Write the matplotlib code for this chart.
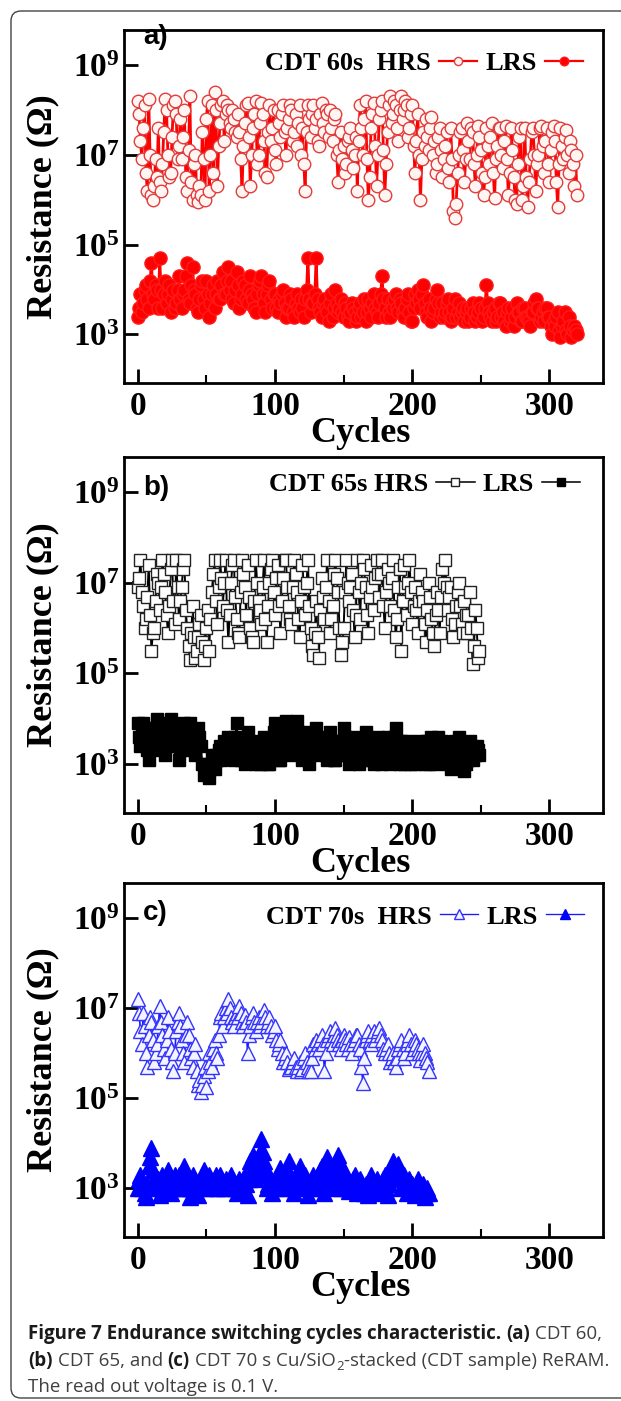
import numpy as np
import matplotlib
matplotlib.use("Agg")
import matplotlib.pyplot as plt
from matplotlib.lines import Line2D
from matplotlib.patches import FancyBboxPatch
from matplotlib.ticker import FixedLocator, LogLocator, NullFormatter

plt.rcParams["font.family"] = "Liberation Serif"
plt.rcParams["font.weight"] = "bold"
plt.rcParams["mathtext.fontset"] = "custom"
plt.rcParams["mathtext.bf"] = "Liberation Serif:bold"
plt.rcParams["mathtext.rm"] = "Liberation Serif:bold"

# ---- data: log10 of resistance (ohm), one value per cycle ----
cycles_a = np.arange(0, 321)
hrs_a_log = [
    8.2, 7.9, 7.3, 6.9, 7.6, 8.1, 6.6, 6.2, 8.25, 7.0, 6.1, 6.0, 6.3, 6.9, 6.5, 7.6,
    6.4, 6.2, 6.8, 7.5, 8.25, 8.0, 7.0, 6.5, 6.6, 7.4, 8.1, 8.2, 7.9, 6.9, 7.2, 7.8,
    6.9, 7.4, 8.0, 6.5, 6.2, 7.1, 8.3, 6.4, 6.0, 6.8, 7.0, 6.1, 5.95, 6.3, 6.1, 7.5,
    6.9, 6.0, 7.8, 8.2, 6.2, 7.0, 8.1, 6.6, 8.4, 8.0, 6.3, 7.2, 7.7, 8.1, 8.2, 7.3,
    7.9, 8.1, 8.0, 7.7, 7.6, 8.0, 7.8, 7.5, 7.4, 7.9, 7.5, 6.9, 6.2, 7.2, 7.7, 8.1,
    8.15, 7.4, 6.3, 7.0, 7.6, 7.9, 8.2, 6.8, 7.0, 7.7, 8.15, 7.9, 7.3, 6.6, 6.5, 7.5,
    8.1, 7.3, 7.6, 8.0, 7.1, 6.8, 8.0, 7.7, 7.4, 7.9, 8.1, 7.5, 7.0, 7.6, 7.8, 8.1,
    8.0, 7.3, 7.5, 7.9, 7.2, 7.7, 8.1, 7.0, 7.6, 6.8, 6.2, 7.5, 8.1, 7.8, 7.4, 7.9,
    8.1, 7.6, 7.8, 7.3, 7.2, 7.9, 8.15, 7.7, 7.5, 8.0, 7.9, 7.4, 8.0, 7.6, 7.3, 7.8,
    7.9, 7.0, 6.4, 7.1, 7.5, 6.9, 7.2, 6.6, 6.8, 7.3, 7.4, 7.6, 7.1, 6.7, 7.0, 7.4,
    6.2, 7.3, 8.1, 7.6, 7.0, 7.8, 8.2, 6.9, 6.0, 6.5, 7.6, 7.9, 8.15, 7.2, 6.3, 7.0,
    7.8, 8.0, 8.2, 7.1, 6.1, 6.8, 7.5, 8.1, 8.3, 7.7, 7.9, 8.2, 8.1, 7.6, 7.3, 8.0,
    8.3, 7.8, 8.0, 8.2, 8.1, 7.4, 7.6, 7.9, 8.1, 7.2, 6.6, 7.3, 7.9, 7.0, 6.0, 6.9,
    7.5, 7.2, 7.8, 7.4, 7.1, 7.6, 7.85, 7.0, 7.3, 6.6, 6.8, 7.4, 7.6, 7.1, 6.5, 6.9,
    7.2, 7.5, 6.7, 6.4, 7.6, 6.9, 5.75, 5.6, 5.9, 6.6, 7.0, 7.5, 7.6, 7.1, 6.4, 6.9,
    7.7, 7.3, 6.9, 7.6, 7.5, 6.8, 6.3, 7.0, 7.65, 7.4, 7.1, 6.6, 6.1, 6.5, 7.6, 7.2,
    6.8, 7.4, 7.7, 6.6, 6.05, 6.9, 7.2, 7.6, 7.6, 7.0, 6.7, 7.3, 7.65, 6.9, 6.1, 6.6,
    7.6, 7.1, 6.5, 6.0, 5.9, 6.8, 7.4, 7.6, 6.0, 6.3, 7.6, 6.5, 5.85, 6.4, 6.9, 7.5,
    7.6, 7.0, 6.2, 6.8, 7.0, 7.6, 7.65, 7.2, 6.6, 7.3, 7.6, 6.8, 6.4, 7.1, 7.5, 7.65,
    7.3, 6.4, 5.85, 6.8, 7.6, 7.2, 6.9, 7.4, 7.55, 7.0, 6.6, 7.3, 7.1, 6.8, 6.3, 7.0,
    6.1,
]
lrs_a_log = [
    3.4, 3.6, 3.9, 3.5, 3.7, 4.0, 4.1, 3.8, 3.6, 4.2, 4.6, 3.9, 3.8, 4.1, 4.0, 3.6,
    4.7, 4.0, 3.6, 3.9, 4.2, 3.7, 3.9, 4.1, 3.5, 3.8, 4.0, 3.6, 3.7, 4.0, 4.3, 3.8,
    3.6, 3.9, 4.0, 4.3, 4.6, 3.8, 3.7, 4.1, 4.5, 4.0, 3.9, 3.6, 3.5, 3.8, 4.1, 4.2,
    3.8, 3.6, 4.2, 3.9, 3.4, 3.7, 3.9, 4.1, 3.6, 3.9, 4.2, 3.8, 3.8, 4.1, 4.4, 3.9,
    3.9, 4.2, 4.5, 4.0, 4.2, 3.8, 3.7, 4.0, 4.4, 4.1, 3.6, 3.8, 3.9, 4.2, 4.1, 3.8,
    3.7, 4.0, 4.3, 3.9, 3.8, 3.6, 3.5, 3.9, 4.1, 4.2, 4.3, 3.9, 3.7, 3.5, 3.9, 4.1,
    4.2, 3.8, 3.6, 3.9, 3.9, 3.6, 3.5, 3.8, 3.7, 3.9, 4.0, 3.7, 3.4, 3.6, 3.6, 3.9,
    3.8, 3.5, 3.4, 3.7, 3.9, 3.6, 3.5, 3.8, 3.6, 3.4, 3.8, 4.0, 4.7, 3.8, 3.5, 3.7,
    3.7, 3.9, 4.7, 3.8, 3.6, 3.5, 3.4, 3.7, 3.8, 3.6, 3.5, 3.3, 3.7, 3.9, 3.4, 3.6,
    4.0, 3.7, 3.5, 3.6, 3.8, 3.5, 3.4, 3.7, 3.6, 3.4, 3.3, 3.5, 3.7, 3.6, 3.5, 3.3,
    3.4, 3.6, 3.7, 3.4, 3.5, 3.8, 3.3, 3.5, 3.8, 3.6, 3.4, 3.7, 3.9, 3.6, 3.5, 3.4,
    3.7, 3.9, 4.3, 3.8, 3.6, 3.4, 3.8, 3.5, 3.4, 3.7, 3.6, 3.8, 3.9, 3.6, 3.5, 3.8,
    3.7, 3.5, 3.4, 3.6, 3.8, 3.9, 3.5, 3.3, 3.3, 3.6, 3.9, 3.7, 4.0, 3.8, 3.6, 3.9,
    4.1, 3.7, 3.5, 3.4, 3.8, 3.6, 3.3, 3.5, 3.6, 3.8, 4.0, 3.7, 3.4, 3.5, 3.7, 3.4,
    3.5, 3.7, 3.8, 3.5, 3.3, 3.4, 3.6, 3.8, 3.4, 3.5, 3.7, 3.4, 3.5, 3.6, 3.3, 3.5,
    3.6, 3.3, 3.4, 3.6, 3.7, 3.5, 3.3, 3.4, 3.5, 3.7, 3.6, 3.3, 3.4, 3.6, 4.1, 3.7,
    3.5, 3.4, 3.3, 3.5, 3.6, 3.3, 3.4, 3.7, 3.7, 3.4, 3.5, 3.3, 3.2, 3.5, 3.6, 3.3,
    3.4, 3.6, 3.2, 3.4, 3.7, 3.5, 3.5, 3.3, 3.3, 3.6, 3.6, 3.4, 3.4, 3.3, 3.2, 3.5,
    3.5, 3.7, 3.8, 3.6, 3.6, 3.3, 3.4, 3.5, 3.3, 3.6, 3.6, 3.4, 3.4, 3.2, 3.0, 3.3,
    3.2, 3.4, 3.5, 3.1, 2.95, 3.2, 3.3, 3.5, 3.1, 3.0, 3.4, 3.2, 2.95, 3.1, 3.2, 3.1,
    3.0,
]

cycles_b = np.arange(0, 250)
hrs_b_log = [
    6.9, 7.1, 7.5, 6.8, 6.5, 6.0, 6.2, 6.7, 7.4, 6.3, 5.5, 5.9, 6.0, 6.6, 7.2, 7.0,
    6.4, 6.9, 7.5, 7.2, 6.8, 6.3, 5.9, 6.5, 7.3, 7.5, 6.6, 6.1, 7.5, 6.9, 6.2, 6.6,
    6.9, 7.3, 7.5, 6.4, 6.0, 5.6, 5.3, 5.9, 6.5, 5.8, 5.35, 5.5, 5.8, 6.1, 6.3, 5.7,
    5.3, 5.6, 6.0, 6.4, 5.5, 6.2, 6.8, 7.2, 7.5, 6.6, 6.1, 6.9, 7.5, 7.1, 6.5, 7.0,
    7.5, 6.4, 5.7, 6.3, 7.0, 7.4, 7.5, 6.7, 6.2, 5.9, 5.8, 6.8, 7.5, 7.2, 6.9, 6.3,
    7.4, 6.7, 6.0, 5.8, 5.7, 6.6, 7.5, 7.0, 6.6, 6.4, 6.1, 6.9, 7.5, 6.2, 5.7, 6.5,
    7.0, 7.3, 7.5, 6.8, 6.3, 7.1, 7.4, 6.5, 5.9, 6.6, 7.1, 7.5, 7.5, 6.9, 6.5, 6.2,
    6.1, 6.9, 7.5, 7.2, 6.8, 6.2, 5.8, 6.6, 7.4, 6.9, 6.3, 7.0, 7.5, 6.5, 6.0, 5.6,
    5.4, 5.9, 6.6, 5.8, 5.35, 6.4, 7.1, 6.7, 6.2, 6.9, 7.5, 6.6, 5.9, 6.2, 6.5, 7.2,
    7.5, 7.1, 6.8, 6.0, 5.4, 5.7, 6.0, 6.8, 7.5, 7.0, 6.6, 6.9, 7.2, 6.4, 5.8, 6.3,
    7.5, 6.8, 6.2, 7.0, 7.5, 7.3, 6.9, 6.3, 5.9, 6.7, 7.4, 6.9, 6.4, 7.1, 7.5, 7.2,
    6.7, 7.2, 7.5, 6.5, 6.0, 6.8, 7.3, 7.0, 6.5, 7.1, 7.5, 6.4, 5.8, 6.2, 6.9, 7.3,
    5.5, 6.6, 7.4, 6.9, 6.3, 7.0, 7.5, 6.8, 6.1, 6.5, 6.9, 6.4, 5.9, 6.6, 7.2, 6.8,
    6.6, 6.1, 5.7, 6.4, 7.0, 6.7, 6.2, 5.9, 5.6, 6.3, 6.8, 6.4, 5.9, 6.7, 7.3, 7.0,
    7.5, 6.9, 6.4, 6.7, 6.9, 6.2, 5.8, 6.1, 6.5, 6.8, 7.0, 6.5, 6.1, 5.9, 6.6, 6.3,
    5.9, 6.3, 6.8, 6.0, 5.2, 5.6, 6.4, 6.0, 5.35, 5.5,
]
lrs_b_log = [
    3.9, 3.6, 3.4, 3.7, 3.9, 3.8, 3.6, 3.3, 3.1, 3.5, 3.8, 3.6, 3.3, 3.7, 4.0, 3.8,
    3.5, 3.7, 3.9, 3.5, 3.2, 3.4, 3.7, 3.9, 4.0, 3.6, 3.4, 3.6, 3.8, 3.5, 3.1, 3.3,
    3.6, 3.8, 3.9, 3.5, 3.3, 3.6, 3.9, 3.7, 3.5, 3.3, 3.2, 3.5, 3.8, 3.6, 3.4, 3.0,
    2.75, 2.9, 3.0, 2.8, 2.7, 2.9, 3.2, 3.0, 2.9, 3.2, 3.1, 3.3, 3.4, 3.1, 3.3, 3.5,
    3.2, 3.4, 3.6, 3.3, 3.4, 3.2, 3.1, 3.6, 3.9, 3.5, 3.3, 3.1, 3.5, 3.2, 3.0, 3.3,
    3.7, 3.4, 3.2, 3.5, 3.4, 3.1, 3.0, 3.2, 3.3, 3.0, 3.1, 3.4, 3.6, 3.3, 3.2, 3.0,
    3.0, 3.2, 3.4, 3.7, 3.9, 3.5, 3.3, 3.1, 3.1, 3.4, 3.5, 3.8, 3.95, 3.5, 3.2, 3.4,
    3.6, 3.8, 3.3, 3.6, 3.95, 3.7, 3.4, 3.2, 3.1, 3.4, 3.7, 3.5, 3.2, 3.0, 3.5, 3.3,
    3.3, 3.5, 3.8, 3.4, 3.2, 3.4, 3.6, 3.3, 3.4, 3.2, 3.1, 3.4, 3.7, 3.5, 3.3, 3.1,
    3.1, 3.3, 3.5, 3.3, 3.2, 3.5, 3.8, 3.6, 3.4, 3.2, 3.0, 3.1, 3.3, 3.5, 3.6, 3.3,
    3.2, 3.0, 3.4, 3.2, 3.1, 3.4, 3.7, 3.5, 3.3, 3.1, 3.5, 3.3, 3.0, 3.2, 3.4, 3.6,
    3.2, 3.0, 3.1, 3.3, 3.4, 3.2, 3.6, 3.3, 3.0, 3.2, 3.3, 3.6, 3.8, 3.5, 3.2, 3.0,
    3.5, 3.3, 3.0, 3.2, 3.3, 3.5, 3.1, 3.0, 3.4, 3.2, 3.0, 3.3, 3.2, 3.4, 3.5, 3.2,
    3.1, 3.0, 3.3, 3.5, 3.0, 3.2, 3.6, 3.4, 3.2, 3.0, 3.4, 3.6, 3.1, 3.3, 3.5, 3.3,
    3.3, 3.1, 3.0, 3.2, 2.9, 3.1, 3.4, 3.5, 3.2, 3.4, 3.6, 3.3, 3.1, 2.9, 2.85, 3.0,
    3.3, 3.1, 3.5, 3.4, 3.1, 3.3, 3.2, 3.4, 3.3, 3.2,
]

cycles_c = np.arange(0, 213)
hrs_c_log = [
    7.2, 6.9, 6.5, 6.2, 6.9, 6.6, 6.0, 5.7, 6.4, 6.8, 6.7, 6.3, 5.8, 6.0, 6.2, 6.6,
    7.05, 6.7, 6.4, 6.1, 5.9, 6.3, 6.8, 6.5, 6.1, 5.8, 5.6, 6.0, 6.5, 6.7, 6.9, 6.6,
    6.3, 6.0, 5.8, 6.4, 6.7, 6.4, 6.1, 5.9, 5.7, 6.0, 6.2, 5.6, 5.3, 5.4, 5.15, 5.3,
    5.5, 5.7, 5.25, 5.6, 6.0, 5.8, 5.7, 6.1, 6.3, 6.0, 5.9, 6.4, 6.8, 6.9, 6.6, 6.8,
    7.0, 6.9, 7.2, 7.0, 6.8, 6.7, 6.6, 6.8, 6.9, 6.8, 7.05, 6.9, 6.7, 6.6, 6.85, 6.7,
    6.0, 6.4, 6.6, 6.8, 6.9, 6.7, 6.5, 6.7, 6.8, 6.6, 6.7, 6.8, 6.95, 6.8, 6.6, 6.7,
    6.8, 6.6, 6.4, 6.5, 6.6, 6.3, 6.1, 6.2, 6.3, 6.0, 5.8, 5.9, 6.0, 5.8, 5.65, 5.7,
    5.7, 5.8, 5.9, 5.7, 5.6, 5.7, 5.8, 5.6, 5.65, 5.9, 6.0, 5.8, 5.7, 5.6, 5.6, 5.9,
    6.2, 6.1, 6.3, 6.2, 6.1, 6.3, 6.4, 6.2, 5.6, 6.0, 6.3, 6.4, 6.5, 6.3, 6.2, 6.4,
    6.55, 6.4, 6.3, 6.2, 6.1, 6.3, 6.4, 6.3, 6.2, 6.1, 6.35, 6.2, 6.0, 6.2, 6.3, 6.4,
    6.4, 6.2, 6.1, 5.7, 5.35, 5.9, 6.3, 6.4, 6.5, 6.3, 6.2, 6.4, 6.5, 6.3, 6.4, 6.5,
    6.55, 6.4, 6.3, 6.1, 6.0, 6.1, 6.2, 6.0, 5.8, 5.9, 6.0, 5.8, 5.7, 5.9, 6.1, 6.2,
    6.3, 6.1, 5.9, 6.0, 6.2, 6.3, 6.4, 6.2, 6.0, 6.1, 6.3, 6.2, 6.1, 6.0, 5.85, 6.0,
    6.2, 6.0, 5.9, 5.8, 5.6,
]
lrs_c_log = [
    3.0, 3.2, 3.3, 3.0, 3.1, 2.9, 2.8, 3.1, 3.5, 3.7, 3.9, 3.4, 3.2, 3.1, 3.0, 3.2,
    2.85, 3.0, 3.3, 3.2, 3.1, 3.2, 3.4, 3.1, 2.9, 3.0, 3.2, 3.3, 3.1, 3.0, 3.3, 3.2,
    3.0, 3.2, 3.5, 3.3, 3.2, 3.0, 2.8, 3.0, 3.3, 3.2, 3.1, 3.0, 2.85, 3.1, 3.2, 3.3,
    3.4, 3.2, 3.0, 3.1, 3.3, 3.2, 3.1, 3.0, 3.2, 3.3, 3.0, 3.1, 3.3, 3.2, 3.1, 3.0,
    3.2, 3.1, 3.0, 3.2, 3.3, 3.2, 3.1, 3.0, 2.9, 3.1, 3.2, 3.1, 3.0, 3.2, 3.3, 3.1,
    2.85, 3.2, 3.6, 3.4, 3.75, 3.5, 3.2, 3.3, 3.5, 3.8, 4.1, 3.8, 3.6, 3.3, 3.0, 3.1,
    3.3, 3.1, 2.9, 3.1, 3.2, 3.0, 3.1, 3.3, 3.45, 3.2, 3.0, 3.1, 3.3, 3.4, 3.6, 3.3,
    3.1, 3.0, 2.9, 3.1, 3.2, 3.3, 3.5, 3.2, 3.0, 3.1, 3.3, 3.1, 2.85, 3.0, 3.1, 3.2,
    3.3, 3.1, 3.0, 3.1, 3.2, 3.4, 3.5, 3.1, 2.9, 3.3, 3.7, 3.5, 3.3, 3.2, 3.1, 3.0,
    3.4, 3.6, 3.75, 3.3, 3.0, 3.2, 3.4, 3.3, 3.2, 3.0, 2.95, 3.0, 3.1, 3.2, 3.3, 3.1,
    2.9, 3.0, 3.2, 3.1, 3.0, 2.9, 3.1, 3.0, 2.85, 3.1, 3.3, 3.2, 3.0, 3.1, 3.2, 3.0,
    2.9, 3.0, 3.1, 3.2, 3.3, 3.0, 2.85, 3.1, 3.4, 3.5, 3.6, 3.3, 3.2, 3.4, 3.55, 3.3,
    3.0, 3.1, 3.3, 3.1, 2.9, 3.0, 3.2, 3.1, 3.1, 3.0, 2.85, 3.0, 3.2, 3.1, 3.0, 2.9,
    3.1, 2.8, 2.9, 3.0, 2.9,
]

legend_titles = ["CDT 60s  HRS", "CDT 65s HRS", "CDT 70s  HRS"]
panel_letters = ["a)", "b)", "c)"]
xtick_vals = [0, 100, 200, 300]
ytick_vals = [1e3, 1e5, 1e7, 1e9]
ytick_labels = [r"$\mathbf{10^{3}}$", r"$\mathbf{10^{5}}$",
                r"$\mathbf{10^{7}}$", r"$\mathbf{10^{9}}$"]

W, H = 621, 1401
fig = plt.figure(figsize=(W / 100, H / 100), dpi=100)

# outer rounded frame of the figure page
fig.patches.append(FancyBboxPatch((11, 3), 700, 1387, boxstyle="round,pad=0,rounding_size=10",
                                  transform=None, fill=False, ec="#444444", lw=1.0))


def add_axes_px(left, top, right, bottom):
    return fig.add_axes([left / W, 1 - bottom / H, (right - left) / W, (bottom - top) / H])


styles = [
    dict(line="#ff0000", hrs=dict(marker="o", mfc="#fff5f2", mec="#e23c3c", ms=9),
         lrs=dict(marker="o", mfc="#ff0000", mec="#ff1a1a", ms=9.5), lw=2.0),
    dict(line="#000000", hrs=dict(marker="s", mfc="#ffffff", mec="#222222", ms=8.5),
         lrs=dict(marker="s", mfc="#000000", mec="#000000", ms=9), lw=1.4),
    dict(line="#1a1aff", hrs=dict(marker="^", mfc="#f4f4ff", mec="#3434ff", ms=10.5),
         lrs=dict(marker="^", mfc="#0000ff", mec="#0000ff", ms=11), lw=1.2),
]
boxes = [(124, 30, 603, 383), (124, 457, 603, 813), (124, 883, 603, 1237)]
series = [(cycles_a, hrs_a_log, lrs_a_log), (cycles_b, hrs_b_log, lrs_b_log),
          (cycles_c, hrs_c_log, lrs_c_log)]
legend_pos = [(0.958, 0.9065), (0.952, 0.924), (0.960, 0.904)]
letter_y = [0.98, 0.913, 0.915]

for i in range(3):
    ax = add_axes_px(*boxes[i])
    st = styles[i]
    cyc, hrs, lrs = series[i]
    ax.plot(cyc, np.power(10.0, hrs), color=st["line"], lw=st["lw"], mew=1.0, **st["hrs"])
    ax.plot(cyc, np.power(10.0, lrs), color=st["line"], lw=st["lw"], mew=1.0, **st["lrs"])

    ax.set_yscale("log")
    ax.set_xlim(-10, 339)
    ax.set_ylim(10 ** 1.92, 10 ** 9.78)
    ax.set_xticks(xtick_vals)
    ax.set_xticks([50, 150, 250], minor=True)
    ax.yaxis.set_major_locator(FixedLocator(ytick_vals))
    ax.set_yticklabels(ytick_labels)
    ax.yaxis.set_minor_locator(LogLocator(base=10, subs=np.arange(1, 10)))
    ax.yaxis.set_minor_formatter(NullFormatter())
    ax.tick_params(which="both", direction="in", top=False, right=False)
    ax.tick_params(which="major", length=10, width=2, labelsize=24, pad=3)
    ax.tick_params(which="minor", length=5.5, width=1.5)
    ax.tick_params(axis="x", which="major", pad=6)
    for s in ax.spines.values():
        s.set_linewidth(2)

    ax.set_ylabel("Resistance (\u03a9)", fontsize=26, fontweight="bold")
    ax.yaxis.set_label_coords(-0.136, 0.5)
    ax.set_xlabel("Cycles", fontsize=26, fontweight="bold")
    ax.xaxis.set_label_coords(0.493, -0.095)

    ax.text(0.04, letter_y[i], panel_letters[i], transform=ax.transAxes, family="Liberation Sans",
            weight="bold", fontsize=20, va="center", ha="left")

    h1 = Line2D([], [], color=st["line"], lw=st["lw"] * 0.8, mew=1.0,
                **dict(st["hrs"], ms=st["hrs"]["ms"] * 0.65))
    h2 = Line2D([], [], color=st["line"], lw=st["lw"] * 0.8, mew=1.0,
                **dict(st["lrs"], ms=st["lrs"]["ms"] * 0.65))
    ax.legend([h1, h2], [legend_titles[i], "LRS"], ncol=2, markerfirst=False, frameon=False,
              loc="center right", bbox_to_anchor=legend_pos[i], borderpad=0, borderaxespad=0,
              handlelength=1.45, handletextpad=0.3, columnspacing=0.3,
              prop=dict(family="Liberation Serif", weight="bold", size=19))

# caption, written piece by piece so bold and regular parts can sit on one line
renderer = fig.canvas.get_renderer()
cap_size = 13.5
space = 5


def write_line(pieces, x, y):
    for text, bold, gap, sub in pieces:
        x += gap
        t = fig.text(x / W, (H - y - (4 if sub else 0)) / H, text, family="Open Sans",
                     weight="bold" if bold else "normal",
                     color="#1a1a1a" if bold else "#404040",
                     fontsize=cap_size * (0.7 if sub else 1), va="baseline", ha="left")
        bb = t.get_window_extent(renderer)
        x = bb.x1


write_line([("Figure 7 Endurance switching cycles characteristic.", True, 0, False),
            ("(a)", True, space, False), ("CDT 60,", False, space, False)], 28, 1339)
write_line([("(b)", True, 0, False), ("CDT 65, and", False, space, False),
            ("(c)", True, space, False), ("CDT 70 s Cu/SiO", False, space, False),
            ("2", False, 0.5, True), ("-stacked (CDT sample) ReRAM.", False, 0.5, False)], 28, 1366)
write_line([("The read out voltage is 0.1 V.", False, 0, False)], 28, 1392)

fig.savefig("out.png", dpi=100)
